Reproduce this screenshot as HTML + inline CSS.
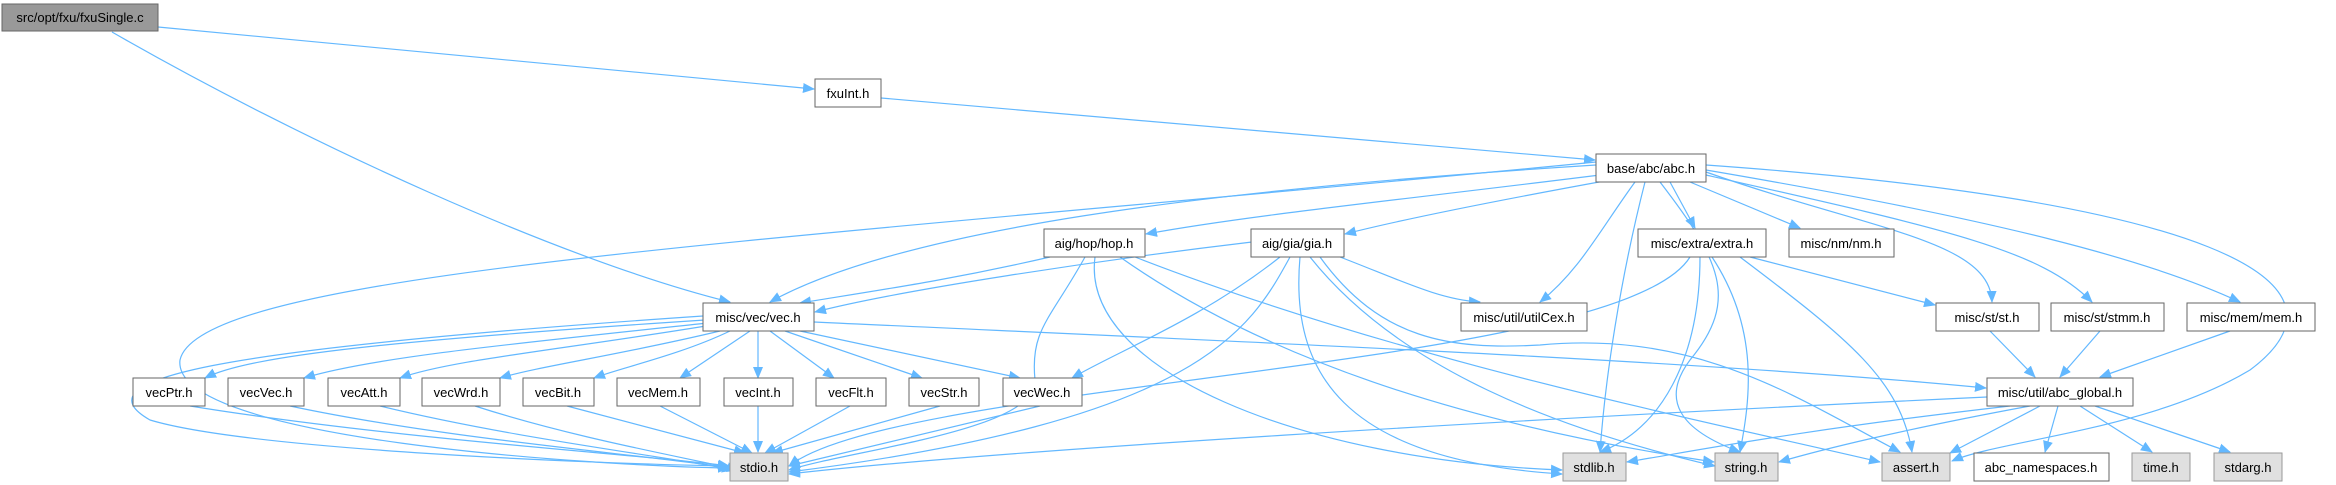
<!DOCTYPE html>
<html><head><meta charset="utf-8"><style>
html,body{margin:0;padding:0;background:#fff;width:2336px;height:485px;overflow:hidden}
svg text{font-family:"Liberation Sans",Arial,sans-serif;font-size:13px;fill:#000;text-anchor:middle}
.e{fill:none;stroke:#63b8ff;stroke-width:1.2}
.n{fill:#fff;stroke:#666;stroke-width:1}
.g{fill:#e0e0e0;stroke:#999;stroke-width:1}
</style></head><body>
<svg width="2336" height="485" viewBox="0 0 2336 485" xmlns="http://www.w3.org/2000/svg">
<defs><marker id="a" markerWidth="12" markerHeight="10" refX="11" refY="5" orient="auto" markerUnits="userSpaceOnUse"><path d="M0,0 L12,5 L0,10 z" fill="#63b8ff"/></marker></defs>
<g class="e" marker-end="url(#a)">
<path d="M158,27 L814,89"/>
<path d="M112,32 C300,140 560,260 730,302"/>
<path d="M881,98 L1595,160"/>
<!-- abc.h -->
<path d="M1596,162 C800,240 200,270 180,360 C170,440 600,466 729,468"/>
<path d="M1596,165 C1200,190 900,230 770,302"/>
<path d="M1600,175 C1400,200 1250,215 1146,234"/>
<path d="M1610,180 C1500,200 1400,220 1345,234"/>
<path d="M1635,182 C1600,230 1580,270 1540,302"/>
<path d="M1670,182 L1695,228"/>
<path d="M1690,182 L1800,228"/>
<path d="M1645,182 C1620,280 1605,380 1600,452"/>
<path d="M1660,182 C1720,260 1740,300 1690,360 C1660,400 1680,430 1740,452"/>
<path d="M1706,172 C1870,230 1990,240 1992,302"/>
<path d="M1706,175 C1950,230 2040,250 2092,302"/>
<path d="M1706,170 C2000,220 2150,260 2240,302"/>
<path d="M1706,165 C2200,200 2370,280 2250,370 C2150,430 2000,440 1952,461"/>
<!-- hop.h -->
<path d="M1050,257 C950,280 880,290 800,303"/>
<path d="M1085,257 C1050,320 1030,330 1035,380 C1040,430 850,450 789,470"/>
<path d="M1095,257 C1080,370 1300,460 1562,470"/>
<path d="M1120,257 C1280,370 1500,430 1714,462"/>
<path d="M1135,257 C1400,360 1700,420 1880,462"/>
<!-- gia.h -->
<path d="M1252,242 C1100,260 900,290 815,312"/>
<path d="M1340,257 C1400,280 1440,300 1480,302"/>
<path d="M1280,257 C1200,320 1120,350 1072,378"/>
<path d="M1290,257 C1250,330 1200,420 789,472"/>
<path d="M1300,257 C1290,370 1340,460 1562,474"/>
<path d="M1310,257 C1400,370 1560,430 1715,466"/>
<path d="M1320,257 C1380,340 1450,350 1540,345 C1700,330 1800,400 1900,452"/>
<!-- extra.h -->
<path d="M1690,257 C1620,370 900,380 789,466"/>
<path d="M1700,257 C1700,360 1660,430 1600,452"/>
<path d="M1712,257 C1760,330 1750,400 1740,452"/>
<path d="M1740,257 C1850,340 1900,380 1912,452"/>
<path d="M1750,257 L1935,305"/>
<!-- vec.h -->
<path d="M705,320 C400,340 250,355 205,378"/>
<path d="M708,323 C500,345 370,358 304,378"/>
<path d="M712,325 C560,350 450,360 400,378"/>
<path d="M720,331 C620,355 540,366 500,378"/>
<path d="M730,331 C680,355 620,368 594,378"/>
<path d="M750,331 L680,378"/>
<path d="M758,331 L758,378"/>
<path d="M770,331 L834,378"/>
<path d="M785,331 L922,378"/>
<path d="M800,331 L1020,378"/>
<path d="M814,322 C1200,340 1700,360 1986,388"/>
<path d="M703,316 C200,350 80,380 150,420 C250,450 600,464 729,466"/>
<!-- vec row to stdio -->
<path d="M190,406 C400,440 650,455 729,466"/>
<path d="M290,406 C450,440 650,455 730,468"/>
<path d="M380,406 C520,440 680,458 733,470"/>
<path d="M475,406 C580,440 700,460 738,470"/>
<path d="M567,406 L745,453"/>
<path d="M660,406 L752,453"/>
<path d="M758,406 L758,452"/>
<path d="M850,406 L765,453"/>
<path d="M940,406 L772,453"/>
<path d="M1040,406 C900,440 820,458 789,466"/>
<!-- st,stmm,mem -->
<path d="M1990,331 L2035,377"/>
<path d="M2100,331 L2060,377"/>
<path d="M2230,331 L2100,377"/>
<!-- abc_global -->
<path d="M1987,397 C1500,420 1000,450 789,474"/>
<path d="M2010,406 C1800,430 1700,450 1627,462"/>
<path d="M2030,406 C1900,430 1820,450 1779,462"/>
<path d="M2040,406 L1950,453"/>
<path d="M2058,406 L2045,452"/>
<path d="M2080,406 L2152,452"/>
<path d="M2095,406 L2230,452"/>
</g>
<g>
<rect x="2" y="4" width="156" height="27" fill="#999" stroke="#666"/><text x="80" y="22">src/opt/fxu/fxuSingle.c</text>
<rect class="n" x="815" y="79" width="66" height="28"/><text x="848" y="98">fxuInt.h</text>
<rect class="n" x="1596" y="154" width="110" height="28"/><text x="1651" y="173">base/abc/abc.h</text>
<rect class="n" x="1044" y="229" width="101" height="28"/><text x="1094" y="248">aig/hop/hop.h</text>
<rect class="n" x="1251" y="229" width="93" height="28"/><text x="1297" y="248">aig/gia/gia.h</text>
<rect class="n" x="1638" y="229" width="128" height="28"/><text x="1702" y="248">misc/extra/extra.h</text>
<rect class="n" x="1789" y="229" width="105" height="28"/><text x="1841" y="248">misc/nm/nm.h</text>
<rect class="n" x="703" y="303" width="111" height="28"/><text x="758" y="322">misc/vec/vec.h</text>
<rect class="n" x="1461" y="303" width="126" height="28"/><text x="1524" y="322">misc/util/utilCex.h</text>
<rect class="n" x="1936" y="303" width="103" height="28"/><text x="1987" y="322">misc/st/st.h</text>
<rect class="n" x="2051" y="303" width="113" height="28"/><text x="2107" y="322">misc/st/stmm.h</text>
<rect class="n" x="2187" y="303" width="128" height="28"/><text x="2251" y="322">misc/mem/mem.h</text>
<rect class="n" x="133" y="378" width="72" height="28"/><text x="169" y="397">vecPtr.h</text>
<rect class="n" x="228" y="378" width="76" height="28"/><text x="266" y="397">vecVec.h</text>
<rect class="n" x="328" y="378" width="72" height="28"/><text x="364" y="397">vecAtt.h</text>
<rect class="n" x="422" y="378" width="78" height="28"/><text x="461" y="397">vecWrd.h</text>
<rect class="n" x="523" y="378" width="71" height="28"/><text x="558" y="397">vecBit.h</text>
<rect class="n" x="617" y="378" width="83" height="28"/><text x="658" y="397">vecMem.h</text>
<rect class="n" x="724" y="378" width="69" height="28"/><text x="758" y="397">vecInt.h</text>
<rect class="n" x="816" y="378" width="70" height="28"/><text x="851" y="397">vecFlt.h</text>
<rect class="n" x="909" y="378" width="70" height="28"/><text x="944" y="397">vecStr.h</text>
<rect class="n" x="1003" y="378" width="79" height="28"/><text x="1042" y="397">vecWec.h</text>
<rect class="n" x="1987" y="378" width="146" height="28"/><text x="2060" y="397">misc/util/abc_global.h</text>
<rect class="g" x="730" y="453" width="58" height="28"/><text x="759" y="472">stdio.h</text>
<rect class="g" x="1563" y="453" width="63" height="28"/><text x="1594" y="472">stdlib.h</text>
<rect class="g" x="1715" y="453" width="63" height="28"/><text x="1746" y="472">string.h</text>
<rect class="g" x="1882" y="453" width="68" height="28"/><text x="1916" y="472">assert.h</text>
<rect class="n" x="1974" y="453" width="135" height="28"/><text x="2041" y="472">abc_namespaces.h</text>
<rect class="g" x="2132" y="453" width="58" height="28"/><text x="2161" y="472">time.h</text>
<rect class="g" x="2214" y="453" width="68" height="28"/><text x="2248" y="472">stdarg.h</text>
</g>
</svg>
</body></html>
